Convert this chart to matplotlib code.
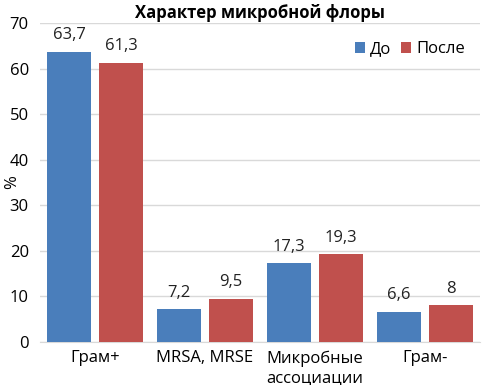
import numpy as np
import matplotlib
matplotlib.use('Agg')
import matplotlib.pyplot as plt

# --- data ---
categories = ["Грам+", "MRSA, MRSE", "Микробные\nассоциации", "Грам-"]
before = [63.7, 7.2, 17.3, 6.6]
after = [61.3, 9.5, 19.3, 8.0]
series_names = ["До", "После"]
yticks = [0, 10, 20, 30, 40, 50, 60, 70]

BLUE = "#4a7ebb"
RED = "#c0504d"

plt.rcParams['font.family'] = ['Open Sans', 'DejaVu Sans']


def fmt(v):
    s = f"{v:.1f}".rstrip('0').rstrip('.')
    return s.replace('.', ',')


fig = plt.figure(figsize=(4.87, 3.85), dpi=100)
ax = fig.add_axes([0.082, 0.112, 0.904, 0.828])

x = np.arange(len(categories))
w = 0.4
off = 0.236
b1 = ax.bar(x - off, before, w, color=BLUE, label=series_names[0], zorder=3)
b2 = ax.bar(x + off, after, w, color=RED, label=series_names[1], zorder=3)

for bars, vals in [(b1, before), (b2, after)]:
    for r, v in zip(bars, vals):
        ax.annotate(fmt(v), (r.get_x() + r.get_width() / 2, v),
                    xytext=(0, 6), textcoords='offset points',
                    ha='center', va='bottom', fontsize=12, color='#222222')

ax.set_xlim(-0.5, len(categories) - 0.5)
ax.set_ylim(0, 70)
ax.set_yticks(yticks)
ax.tick_params(axis='y', length=0, labelsize=12, pad=8)
ax.tick_params(axis='x', length=0, labelsize=12, pad=6)
ax.set_xticks(x)
ax.set_xticklabels(categories, linespacing=1.3)
ax.grid(axis='y', color='#d9d9d9', linewidth=1, zorder=0)
for s in ['top', 'right', 'left']:
    ax.spines[s].set_visible(False)
ax.spines['bottom'].set_color('#d9d9d9')
ax.set_ylabel("%", fontsize=12)
ax.yaxis.set_label_coords(-0.045, 0.5)

ax.set_title("Характер микробной флоры", fontsize=12, fontweight='bold', pad=4)
ax.legend(loc='upper right', bbox_to_anchor=(1.0, 0.99), frameon=False,
          fontsize=12, handlelength=0.6, handleheight=0.6, handletextpad=0.3,
          ncol=2, columnspacing=0.6)

fig.savefig("out.png", dpi=100)
